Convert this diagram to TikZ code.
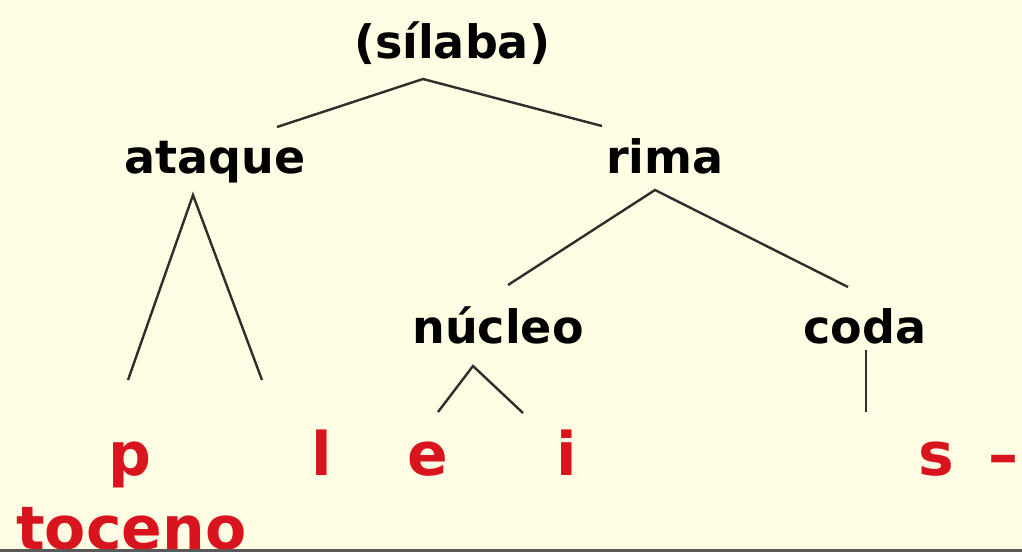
\documentclass[tikz,border=0pt]{standalone}
\usepackage{fontspec}
\setmainfont{DejaVu Sans}
\begin{document}
\begin{tikzpicture}[x=1pt,y=-1pt,
  lab/.style={anchor=base,inner sep=0pt,font=\fontsize{46}{50}\selectfont\bfseries,text=black},
  seg/.style={anchor=base,inner sep=0pt,font=\fontsize{60}{64}\selectfont\bfseries,text=segred},
  edge/.style={draw=linegray,line width=2.4pt}]
\definecolor{bgyellow}{HTML}{FFFEE4}
\definecolor{segred}{HTML}{D8141E}
\definecolor{linegray}{HTML}{2E2E2A}
\fill[bgyellow] (0,0) rectangle (1022,552);
\useasboundingbox (0,0) rectangle (1022,552);
% labels
\node[lab] (silaba) at (452,58) {(sílaba)};
\node[lab] (ataque) at (215,173) {ataque};
\node[lab] (rima) at (665,173) {rima};
\node[lab] (nucleo) at (498,343) {núcleo};
\node[lab] (coda) at (865,343) {coda};
% segments
\node[seg] (p) at (130,475) {p};
\node[seg] (l) at (322,475) {l};
\node[seg] (e) at (428,475) {e};
\node[seg] (i) at (567,475) {i};
\node[seg] (s) at (936,475) {s};
\node[seg] (dash) at (1003,475) {–};
\node[seg,anchor=base west] (toceno) at (16,549) {toceno};
% connector points
\coordinate (silA) at (423,79);
\coordinate (silL) at (277,127);
\coordinate (silR) at (602,126);
\coordinate (rimA) at (655,190);
\coordinate (rimL) at (508,285);
\coordinate (rimR) at (848,287);
\coordinate (ataA) at (193,195);
\coordinate (ataL) at (128,380);
\coordinate (ataR) at (262,380);
\coordinate (nucA) at (473,366);
\coordinate (nucL) at (438,412);
\coordinate (nucR) at (523,413);
\coordinate (codA) at (866,350);
\coordinate (codB) at (866,412);
\draw[edge] (silL) -- (silA) -- (silR);
\draw[edge] (rimL) -- (rimA) -- (rimR);
\draw[edge] (ataL) -- (ataA) -- (ataR);
\draw[edge] (nucL) -- (nucA) -- (nucR);
\draw[edge] (codA) -- (codB);
% bottom rule
\fill[gray!70!black] (0,549) rectangle (1022,552);
\end{tikzpicture}
\end{document}
